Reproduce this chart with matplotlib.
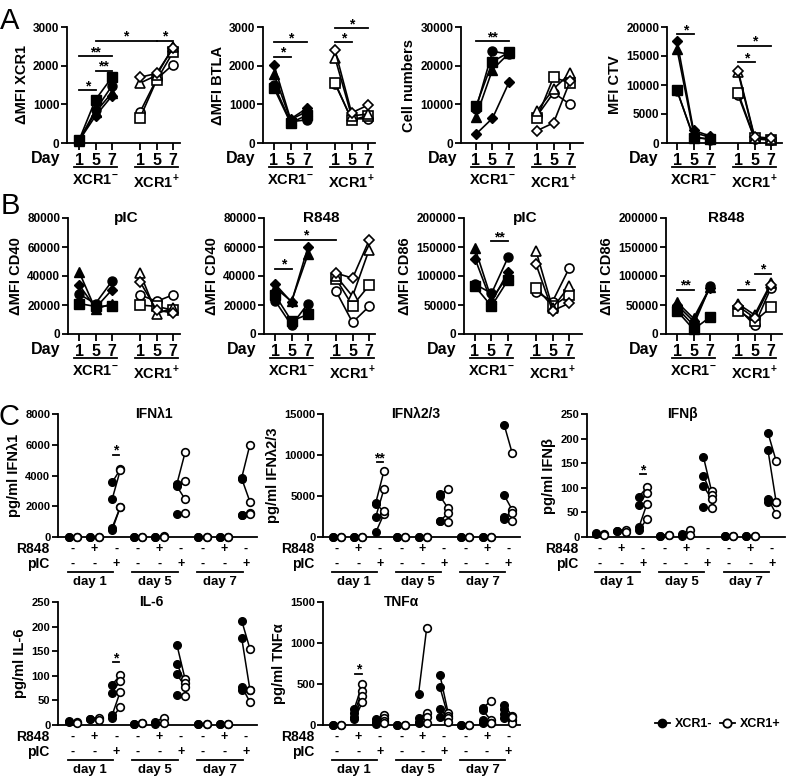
import matplotlib
matplotlib.use('Agg')
import matplotlib.pyplot as plt
from matplotlib.lines import Line2D
from matplotlib.transforms import blended_transform_factory

plt.rcParams['font.family'] = ['Liberation Sans', 'DejaVu Sans']
plt.rcParams['font.weight'] = 'bold'
plt.rcParams['axes.labelweight'] = 'bold'
plt.rcParams['mathtext.fontset'] = 'custom'
plt.rcParams['mathtext.rm'] = 'Liberation Sans:bold'
plt.rcParams['mathtext.bf'] = 'Liberation Sans:bold'
plt.rcParams['axes.linewidth'] = 1.3

# ---------------- data: panel A / B (donors: circle, square, triangle, diamond; days 1, 5, 7)
days = ['1', '5', '7']
markers = ['o', 's', '^', 'D']

xcr1_neg = [[60, 850, 1480], [70, 1120, 1700], [50, 800, 1300], [60, 700, 1220]]
xcr1_pos = [[800, 1650, 2030], [650, 1620, 2350], [1550, 1750, 2480], [1700, 1800, 2450]]
btla_neg = [[1500, 550, 600], [1420, 520, 720], [1780, 600, 820], [2020, 620, 900]]
btla_pos = [[1530, 620, 630], [1560, 600, 700], [2200, 700, 750], [2400, 780, 980]]
cells_neg = [[8800, 23700, 23000], [9500, 21000, 23500], [6800, 19000, 23200], [2300, 6400, 15700]]
cells_pos = [[7000, 13000, 10000], [6500, 17000, 15500], [8300, 14000, 18000], [3200, 5200, 16000]]
ctv_neg = [[9000, 1100, 600], [9100, 900, 700], [16200, 1800, 1000], [17600, 2200, 1200]]
ctv_pos = [[8300, 700, 500], [8700, 800, 600], [12200, 900, 700], [12500, 1100, 800]]

cd40_pic_neg = [[27500, 21000, 36500], [21000, 19000, 19500], [43000, 17000, 21000], [34000, 18000, 30500]]
cd40_pic_pos = [[27000, 22500, 27000], [20000, 19000, 16500], [42000, 14000, 18000], [36000, 16500, 14500]]
cd40_r848_neg = [[23000, 6000, 21000], [27000, 9000, 13500], [32000, 22500, 55000], [34500, 22000, 60000]]
cd40_r848_pos = [[29500, 8000, 19000], [38000, 19500, 33500], [40000, 26000, 58000], [42000, 38500, 64500]]
cd86_pic_neg = [[86000, 70000, 132000], [82000, 48000, 93000], [148000, 60000, 100000], [130000, 55000, 107000]]
cd86_pic_pos = [[73000, 56000, 113000], [80000, 48000, 67000], [143000, 45000, 82000], [120000, 40000, 53000]]
cd86_r848_neg = [[45000, 15000, 82000], [40000, 8000, 29000], [55000, 27000, 81000], [50000, 22000, 80000]]
cd86_r848_pos = [[45000, 15000, 80000], [40000, 22000, 46000], [52000, 33000, 88000], [48000, 28000, 85000]]

# significance: (index from, index to, y, text) ; indices 0-2 XCR1-, 3-5 XCR1+
sig_xcr1 = [(0, 1, 1370, '*'), (0, 2, 2250, '**'), (1, 2, 1870, '**'), (1, 4, 2640, '*'), (4, 5, 2640, '*')]
sig_btla = [(0, 1, 2230, '*'), (0, 2, 2600, '*'), (3, 4, 2600, '*'), (3, 5, 2965, '*')]
sig_cells = [(0, 2, 26300, '**')]
sig_ctv = [(0, 1, 18740, '*'), (3, 4, 13890, '*'), (3, 5, 16740, '*')]
sig_cd40_r848 = [(0, 1, 44900, '*'), (0, 3, 65000, '*')]
sig_cd86_pic = [(1, 2, 160000, '**')]
sig_cd86_r848 = [(0, 1, 76000, '**'), (3, 4, 76000, '*'), (4, 5, 104000, '*')]

# ---------------- data: panel C (9 groups: day1 -, R848, pIC, day5 ..., day7 ...)
r848_signs = ['-', '+', '-'] * 3
pic_signs = ['-', '-', '+'] * 3
day_names = ['day 1', 'day 5', 'day 7']

ifnl1_neg = [[0, 0], [0, 0], [3550, 2450, 600, 450], [0, 0], [0, 0], [3450, 3300, 3350, 1500],
             [0, 0], [0, 0], [3850, 3800, 1450, 1400]]
ifnl1_pos = [[0, 0], [0, 0], [4400, 4350, 1950, 1950], [0, 0], [60, 0], [5500, 2450, 3650, 1550],
             [0, 0], [0, 0], [6000, 2300, 1550, 1500]]
ifnl23_neg = [[0, 0], [0, 0], [4150, 2450, 550, 4000], [0, 0], [0, 0], [5200, 5000, 1950, 1950],
              [0, 0], [0, 0], [13700, 5100, 2500, 2200]]
ifnl23_pos = [[0, 0], [0, 0], [8000, 5800, 2800, 3150], [0, 0], [0, 0], [5800, 3500, 2900, 1850],
              [0, 0], [0, 0], [10200, 3300, 2900, 2000]]
ifnb_neg = [[8, 6], [13, 12], [82, 66, 20, 14], [3, 2], [6, 3], [163, 125, 103, 60],
            [2, 2], [2, 2], [212, 177, 78, 72]]
ifnb_pos = [[7, 4], [15, 11], [101, 90, 68, 37], [5, 5], [15, 5], [93, 85, 78, 58],
            [3, 3], [2, 2], [155, 72, 47, 72]]
il6_neg = [[8, 6], [13, 12], [82, 66, 20, 14], [3, 2], [6, 3], [163, 125, 103, 60],
           [2, 2], [2, 2], [212, 177, 78, 72]]
il6_pos = [[7, 4], [15, 11], [101, 90, 68, 37], [5, 5], [15, 5], [93, 85, 78, 58],
           [3, 3], [2, 2], [155, 72, 47, 72]]
tnfa_neg = [[0, 0], [200, 150, 100, 70], [70, 40, 20, 10], [0, 0], [380, 80, 40, 20], [610, 460, 200, 100],
            [0, 0], [210, 180, 60, 20], [240, 200, 130, 80]]
tnfa_pos = [[0, 0], [500, 420, 350, 280], [120, 90, 50, 30], [0, 0], [1180, 150, 100, 30], [150, 110, 80, 40],
            [0, 0], [290, 60, 30, 20], [110, 60, 30, 100]]

W, H = 787, 782
fig = plt.figure(figsize=(W / 100, H / 100), dpi=100)


def px_axes(x0, x1, top, bottom):
    ax = fig.add_axes([x0 / W, 1 - bottom / H, (x1 - x0) / W, (bottom - top) / H])
    ax.spines['top'].set_visible(False)
    ax.spines['right'].set_visible(False)
    return ax


def time_panel(x0, x1, tick1, top, ylab, neg, pos, ymax, ystep, sig, title=None):
    bottom = top + 116
    ax = px_axes(x0, x1, top, bottom)
    ppu = 16.5
    xpos = [0, 1, 2, 3.7, 4.7, 5.7]
    ax.set_xlim((x0 - tick1) / ppu, (x1 - tick1) / ppu)
    ax.set_ylim(0, ymax)
    ax.set_yticks(range(0, ymax + 1, ystep))
    ax.tick_params(axis='y', length=4, width=1.3, labelsize=8.5, pad=1.5)
    ax.set_xticks(xpos)
    ax.set_xticklabels(days * 2, fontsize=11.5)
    ax.tick_params(axis='x', length=5, width=1.3, pad=2)
    ax.set_ylabel(ylab, fontsize=10.5, labelpad=3)
    for i, m in enumerate(markers):
        ms = 5.5 if m == 'D' else 6.5
        ax.plot(xpos[:3], neg[i], marker=m, color='k', mfc='k', mec='k', ms=ms, lw=1.2, clip_on=False, zorder=3)
        ax.plot(xpos[3:], pos[i], marker=m, color='k', mfc='white', mec='k', mew=1.2, ms=ms, lw=1.2,
                clip_on=False, zorder=3)
    for a, b, y, s in sig:
        ax.plot([xpos[a], xpos[b]], [y, y], color='k', lw=1.3, clip_on=False)
        ax.annotate(s, ((xpos[a] + xpos[b]) / 2, y), xytext=(0, 0), textcoords='offset points',
                    ha='center', va='baseline', fontsize=10, annotation_clip=False)
    trans = blended_transform_factory(ax.transData, fig.transFigure)
    ax.text(-1.15, 1 - (bottom + 15) / H, 'Day', ha='right', va='center', fontsize=11.5, transform=trans)
    for c, lab in [(1, r'XCR1$^{-}$'), (4.7, r'XCR1$^{+}$')]:
        ax.plot([c - 1.3, c + 1.3], [1 - (bottom + 24) / H] * 2, color='k', lw=1.3, transform=trans, clip_on=False)
        ax.text(c, 1 - (bottom + 38) / H, lab, ha='center', va='center', fontsize=10.5, transform=trans)
    if title:
        ax.text(0.52, 1.0, title, ha='center', va='center', fontsize=11, transform=ax.transAxes)
    return ax


def cyto_panel(x0, x1, g1, ppu, top, title, tx, ylab, neg, pos, ymax, ystep, sig):
    bottom = top + 123
    ax = px_axes(x0, x1, top, bottom)
    ax.set_xlim((x0 - g1) / ppu, (x1 - g1) / ppu)
    ax.set_ylim(0, ymax)
    ax.set_yticks(range(0, ymax + 1, ystep))
    ax.tick_params(axis='y', length=4, width=1.3, labelsize=8, pad=1.5)
    ax.set_xticks([])
    ax.set_ylabel(ylab, fontsize=10.5, labelpad=3)
    d = 0.19
    for g in range(9):
        for yn, yp in zip(neg[g], pos[g]):
            ax.plot([g - d, g + d], [yn, yp], color='k', lw=1.1, clip_on=False, zorder=2)
        ax.plot([g - d] * len(neg[g]), neg[g], 'o', color='k', ms=5.5, clip_on=False, zorder=3)
        ax.plot([g + d] * len(pos[g]), pos[g], 'o', mfc='white', mec='k', mew=1.2, ms=5.5,
                clip_on=False, zorder=3)
    for g, y, s in sig:
        ax.plot([g - 0.15, g + 0.15], [y, y], color='k', lw=1.3, clip_on=False)
        ax.annotate(s, (g, y), xytext=(0, 0), textcoords='offset points',
                    ha='center', va='baseline', fontsize=10, annotation_clip=False)
    ax.text(tx, 1.0, title, ha='center', va='center', fontsize=10, transform=ax.transAxes)
    trans = blended_transform_factory(ax.transData, fig.transFigure)
    for g in range(9):
        ax.text(g, 1 - (bottom + 12) / H, r848_signs[g], ha='center', va='center', fontsize=9, transform=trans)
        ax.text(g, 1 - (bottom + 27) / H, pic_signs[g], ha='center', va='center', fontsize=9, transform=trans)
    fig.text((x0 - 9) / W, 1 - (bottom + 12) / H, 'R848', ha='right', va='center', fontsize=10)
    fig.text((x0 - 9) / W, 1 - (bottom + 27) / H, 'pIC', ha='right', va='center', fontsize=10)
    for k, name in enumerate(day_names):
        g0 = 3 * k
        ax.plot([g0 - 0.25, g0 + 1.85], [1 - (bottom + 35) / H] * 2, color='k', lw=1.3,
                transform=trans, clip_on=False)
        ax.text(g0 + 0.8, 1 - (bottom + 45) / H, name, ha='center', va='center', fontsize=9.5, transform=trans)
    return ax


# panel A
time_panel(67, 180, 79, 27, 'ΔMFI XCR1', xcr1_neg, xcr1_pos, 3000, 1000, sig_xcr1)
time_panel(263, 375, 274, 27, 'ΔMFI BTLA', btla_neg, btla_pos, 3000, 1000, sig_btla)
time_panel(461, 583, 476, 27, 'Cell numbers', cells_neg, cells_pos, 30000, 10000, sig_cells)
time_panel(667, 782, 677, 27, 'MFI CTV', ctv_neg, ctv_pos, 20000, 5000, sig_ctv)

# panel B
time_panel(68, 180, 79, 218, 'ΔMFI CD40', cd40_pic_neg, cd40_pic_pos, 80000, 20000, [], 'pIC')
time_panel(264, 375, 275, 218, 'ΔMFI CD40', cd40_r848_neg, cd40_r848_pos, 80000, 20000, sig_cd40_r848, 'R848')
time_panel(464, 582, 475, 218, 'ΔMFI CD86', cd86_pic_neg, cd86_pic_pos, 200000, 50000, sig_cd86_pic, 'pIC')
time_panel(666, 782, 677, 218, 'ΔMFI CD86', cd86_r848_neg, cd86_r848_pos, 200000, 50000, sig_cd86_r848, 'R848')

# panel C
cyto_panel(58, 257, 73, 21.6, 414, 'IFNλ1', 0.48, 'pg/ml IFNλ1', ifnl1_neg, ifnl1_pos, 8000, 2000,
           [(2, 5350, '*')])
cyto_panel(323, 520, 337, 21.4, 414, 'IFNλ2/3', 0.47, 'pg/ml IFNλ2/3', ifnl23_neg, ifnl23_pos, 15000, 5000,
           [(2, 9140, '**')])
cyto_panel(587, 785, 600, 21.5, 414, 'IFNβ', 0.48, 'pg/ml IFNβ', ifnb_neg, ifnb_pos, 250, 50,
           [(2, 128, '*')])
cyto_panel(58, 257, 73, 21.6, 602, 'IL-6', 0.47, 'pg/ml IL-6', il6_neg, il6_pos, 250, 50,
           [(2, 128, '*')])
cyto_panel(323, 520, 337, 21.4, 602, 'TNFα', 0.4, 'pg/ml TNFα', tnfa_neg, tnfa_pos, 1500, 500,
           [(1, 627, '*')])

handles = [Line2D([], [], marker='o', color='k', mfc='k', ms=6, lw=1.3),
           Line2D([], [], marker='o', color='k', mfc='white', mew=1.3, ms=6, lw=1.3)]
fig.legend(handles, ['XCR1-', 'XCR1+'], loc='center left', bbox_to_anchor=(652 / W, 1 - 724 / H),
           frameon=False, ncol=2, fontsize=9, handlelength=1.2, handletextpad=0.4, columnspacing=0.6,
           borderaxespad=0, borderpad=0.2)

fig.text(10 / W, 1 - 21 / H, 'A', ha='center', va='center', fontsize=21, fontweight='normal')
fig.text(10 / W, 1 - 206 / H, 'B', ha='center', va='center', fontsize=21, fontweight='normal')
fig.text(9 / W, 1 - 417 / H, 'C', ha='center', va='center', fontsize=21, fontweight='normal')

fig.savefig('out.png', dpi=100)
